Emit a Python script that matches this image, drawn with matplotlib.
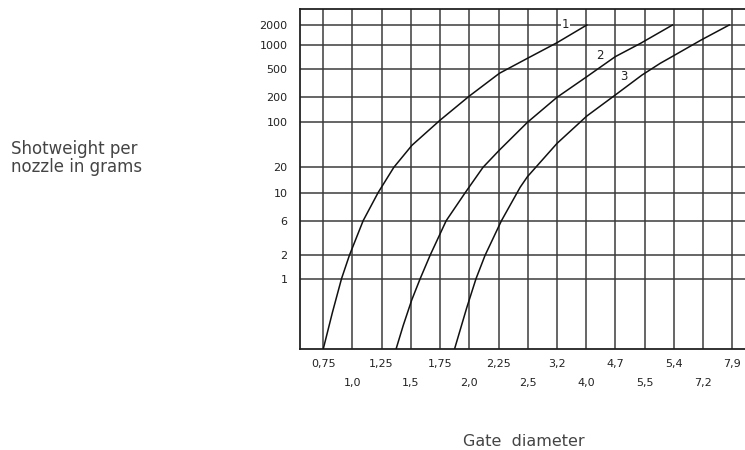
import matplotlib.pyplot as plt
import numpy as np

# gate diameter columns (labels as printed, comma decimals)
x_labels = ["0,75", "1,0", "1,25", "1,5", "1,75", "2,0", "2,25", "2,5",
            "3,2", "4,0", "4,7", "5,5", "5,4", "7,2", "7,9"]
y_ticks = [1, 2, 6, 10, 20, 100, 200, 500, 1000, 2000]

# curves: x in column units (0 = first column), y in grams
curve1_x = [0.00, 0.32, 0.63, 0.90, 1.37, 1.88, 2.42, 3.04, 4.00, 5.00, 6.03, 6.99, 8.00, 9.02]
curve1_y = [0.13, 0.38, 1, 2, 6, 10, 20, 44, 106, 208, 435, 681, 1083, 2000]
curve2_x = [2.49, 2.74, 3.03, 3.32, 3.66, 4.21, 4.86, 5.47, 6.03, 6.99, 8.00, 9.02, 9.99, 10.86, 11.95]
curve2_y = [0.13, 0.26, 0.54, 1, 2, 6, 10, 20, 37, 100, 200, 390, 713, 1061, 2000]
curve3_x = [4.49, 4.91, 5.23, 5.54, 6.10, 6.74, 6.99, 8.00, 9.02, 9.99, 10.91, 11.53, 11.93, 12.93, 13.89]
curve3_y = [0.13, 0.43, 1, 2, 6, 11.6, 15.5, 47, 119, 215, 412, 589, 713, 1189, 2000]

curve_names = ["1", "2", "3"]
name_x = [8.28, 9.48, 10.29]
name_y = [2000, 748, 390]

# the printed chart has uneven row heights: height (px from bottom) of each tick row
row_h = [70.3, 93.7, 128.3, 156.3, 181.7, 226.7, 251.7, 280.0, 304.0, 324.0]
anc_log = np.concatenate([[-1.0], np.log10(y_ticks), [4.0]])
anc_pos = np.concatenate([[row_h[0] - 80.0], row_h, [row_h[-1] + 0.699 * 66]])


def fwd(v):
    v = np.clip(np.asarray(v, dtype=float), 1e-6, None)
    return np.interp(np.log10(v), anc_log, anc_pos)


def inv(p):
    return 10 ** np.interp(np.asarray(p, dtype=float), anc_pos, anc_log)


W, H = 745, 450
fig = plt.figure(figsize=(W / 100, H / 100), dpi=100)
ax = fig.add_axes([300 / W, (H - 349) / H, (W - 300) / W, 340 / H])

ax.set_yscale("function", functions=(fwd, inv))
ax.set_ylim(float(inv(0)), float(inv(340)))
ax.set_xlim(-0.79, 14.43)

gc = "#3c3c3c"
ax.set_yticks(y_ticks)
ax.set_yticklabels([str(v) for v in y_ticks])
ax.yaxis.set_minor_locator(plt.NullLocator())

idx = np.arange(len(x_labels))
ax.set_xticks(idx[::2])
ax.set_xticklabels(x_labels[::2])
ax.set_xticks(idx[1::2], minor=True)
ax.set_xticklabels(x_labels[1::2], minor=True)

ax.tick_params(axis="x", which="major", length=0, pad=7.5, labelsize=8, labelcolor="#222222")
ax.tick_params(axis="x", which="minor", length=0, pad=21, labelsize=8, labelcolor="#222222")
ax.tick_params(axis="y", length=0, pad=9, labelsize=8, labelcolor="#222222")

ax.grid(True, which="both", axis="x", color=gc, lw=1.1)
ax.grid(True, which="major", axis="y", color=gc, lw=1.1)

for s in ["left", "bottom", "top"]:
    ax.spines[s].set_color("#222222")
    ax.spines[s].set_linewidth(1.3)
ax.spines["right"].set_visible(False)

for cx, cy in [(curve1_x, curve1_y), (curve2_x, curve2_y), (curve3_x, curve3_y)]:
    ax.plot(cx, cy, color="#111111", lw=1.1, zorder=3, solid_joinstyle="round")

for n, tx, ty in zip(curve_names, name_x, name_y):
    ax.text(tx, ty, n, ha="center", va="center", fontsize=8.5, color="#222222", zorder=4,
            bbox=dict(facecolor="white", edgecolor="none", pad=0.6) if n == "1" else None)

fig.text(11 / W, 1 - 158 / H, "Shotweight per\nnozzle in grams", ha="left", va="center",
         fontsize=12, color="#444444", linespacing=1.05)
fig.text(524 / W, 1 - 441 / H, "Gate  diameter", ha="center", va="center",
         fontsize=11.5, color="#444444")

fig.savefig("out.png", dpi=100)
